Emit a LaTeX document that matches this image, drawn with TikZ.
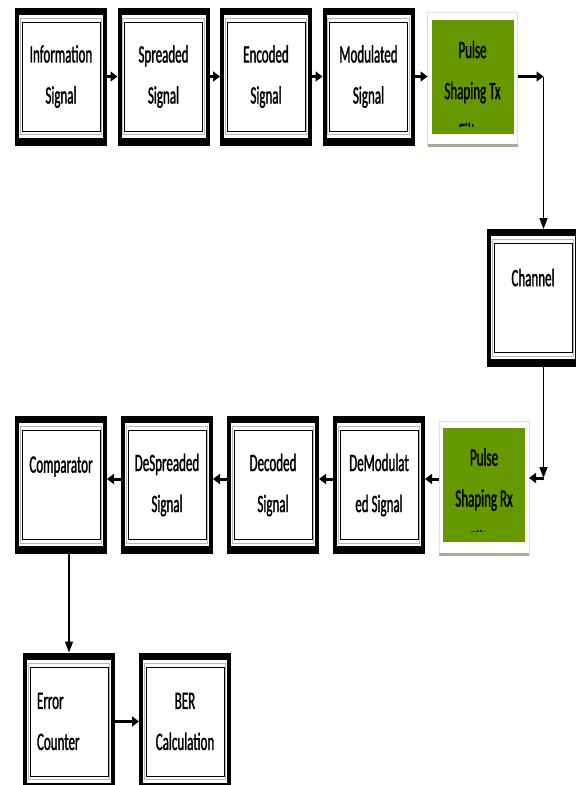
\documentclass[tikz,border=0pt]{standalone}
\usepackage{fontspec}
\setmainfont{Carlito}[FakeStretch=0.52, FakeBold=1.2]
\usetikzlibrary{positioning,arrows.meta,backgrounds}
\definecolor{shapegreen}{RGB}{102,153,0}
\definecolor{shadowgray}{RGB}{163,173,148}
\tikzset{
  block/.style={rectangle, draw=black, line width=1pt, fill=white,
    minimum width=78pt, minimum height=109pt, inner sep=0pt,
    outer xsep=7pt, outer ysep=14.5pt, align=center,
    font=\fontsize{25}{41}\selectfont},
  pulse/.style={rectangle, fill=shapegreen, minimum width=82pt,
    minimum height=114pt, outer sep=4pt},
  pulsetext/.style={align=center, inner sep=0pt,
    font=\fontsize{25}{41}\selectfont},
  flow/.style={line width=3pt, -{Triangle[length=7pt,width=10pt]}},
  link/.style={line width=1.3pt, -{Triangle[length=11pt,width=8pt]}},
}
\begin{document}
\begin{tikzpicture}[x=1pt, y=-1pt]
      \useasboundingbox (0,0) rectangle (576,785);
      \clip (0,0) rectangle (576,785);
      % Define nodes
      \node[block] at (61,76.5)        (info)   {Information\\Signal};
      \node[block, right=10.5pt of info]   (spread) {Spreaded\\Signal};
      \node[block, right=10.5pt of spread] (encod)  {Encoded\\Signal};
      \node[block, right=10.5pt of encod]  (modul)  {Modulated\\Signal};
      \node[pulse, right=13pt of modul]    (ptx)    {};
      \node[block] at (533,298)        (chan)   {Channel\\\mbox{}};
      \node[pulse] at (484,485)        (prx)    {};
      \node[block, left=14pt of prx]   (demod)  {DeModulat\\ed Signal};
      \node[block, left=14pt of demod] (decod)  {Decoded\\Signal};
      \node[block, left=14pt of decod] (desp)   {DeSpreaded\\Signal};
      \node[block, left=14pt of desp]  (comp)   {Comparator\\\mbox{}};
      \node[block, align=left, text width=64pt] at (69,721.5) (errc) {Error\\Counter};
      \node[block, right=24pt of errc] (ber)    {BER\\Calculation};
      % Pulse shaping texts, cut at the bottom
      \begin{scope}
        \clip (ptx.north west) rectangle ([yshift=11pt]ptx.south east);
        \node[pulsetext] at ([yshift=-14pt]ptx.center) (ptxt) {Pulse\\Shaping Tx\\Filter};
      \end{scope}
      \begin{scope}
        \clip (prx.north west) rectangle ([yshift=15pt]prx.south east);
        \node[pulsetext] at ([yshift=-13pt]prx.center) (prxt) {Pulse\\Shaping Rx\\Filter};
      \end{scope}
      % Frames
      \begin{scope}[on background layer]
        \clip (0,0) rectangle (576,785);
        \foreach \n in {info,spread,encod,modul,chan,demod,decod,desp,comp,errc,ber} {
          \fill[black] (\n.north west) rectangle (\n.south east);
          \fill[white] ([xshift=4pt,yshift=-7pt]\n.north west) rectangle ([xshift=-4pt,yshift=8pt]\n.south east);
          \draw[gray!55, line width=0.9pt] ([xshift=5.3pt,yshift=-10.5pt]\n.north west) rectangle ([xshift=-5.3pt,yshift=11pt]\n.south east);
        }
        \foreach \n in {ptx,prx} {
          \draw[gray!25, fill=white] ([yshift=3pt]\n.north west) rectangle ([yshift=-8pt]\n.south east);
          \draw[shadowgray, line width=3pt] ([yshift=-8pt]\n.south west) -- ([yshift=-8pt]\n.south east);
        }
      \end{scope}
      % Connect nodes
      \coordinate (c1) at ([xshift=26pt]ptx.east);
      \coordinate (c2) at ([yshift=7pt]prx.east -| c1);
      \draw[flow] (info) -- (spread);
      \draw[flow] (spread) -- (encod);
      \draw[flow] (encod) -- (modul);
      \draw[flow] (modul) -- (ptx);
      \draw[flow] (ptx.east) -- (c1);
      \draw[link] (c1) -- (c1 |- chan.north);
      \draw[link] (chan.south -| c1) -- (c2);
      \draw[flow] (c2) -- ([yshift=7pt]prx.east);
      \foreach \a/\b in {prx/demod, demod/decod, decod/desp, desp/comp}
        \draw[flow] ([yshift=6pt]\a.west) -- ([yshift=6pt]\b.east);
      \draw[link] (comp.south -| errc.north) -- (errc.north);
      \draw[flow] (errc) -- (ber);
\end{tikzpicture}
\end{document}
